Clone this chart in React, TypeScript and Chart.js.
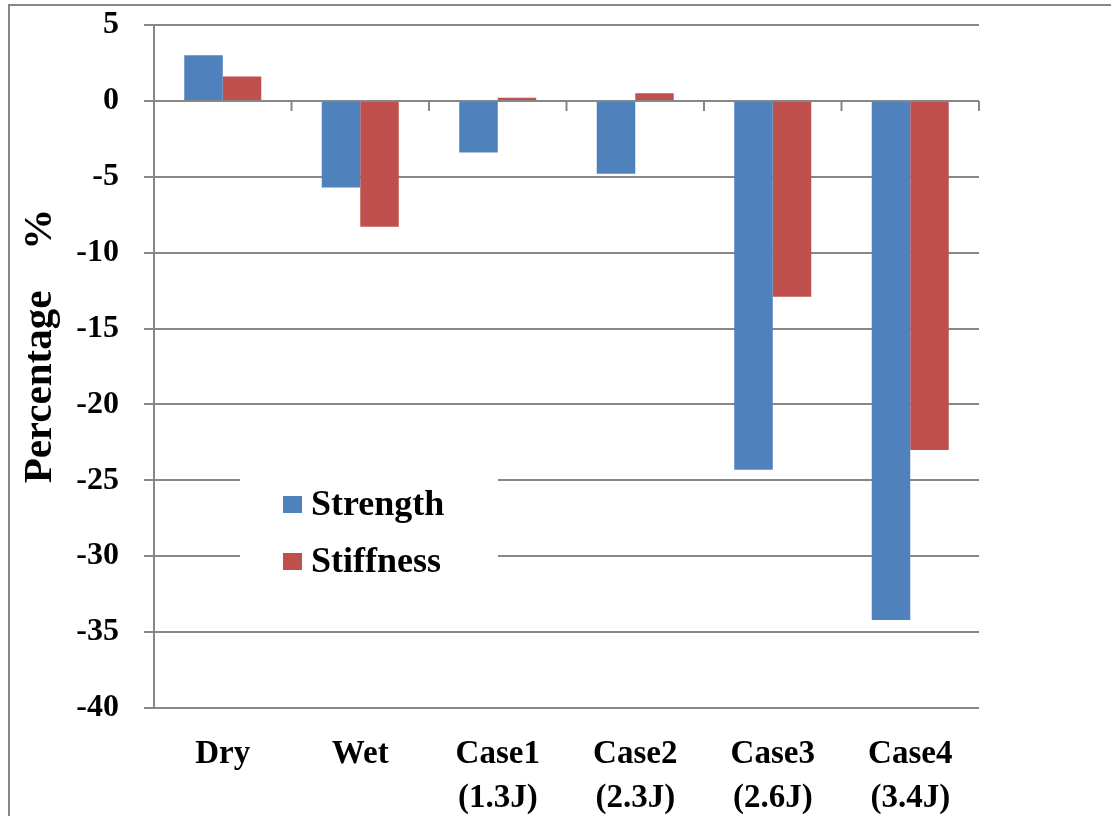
import { useEffect, useRef } from "react"
import { Chart, registerables } from "chart.js"

Chart.register(...registerables)

const categories = [["Dry"], ["Wet"], ["Case1", "(1.3J)"], ["Case2", "(2.3J)"], ["Case3", "(2.6J)"], ["Case4", "(3.4J)"]]
const seriesNames = ["Strength", "Stiffness"]
const strength = [3.0, -5.7, -3.4, -4.8, -24.3, -34.2]
const stiffness = [1.6, -8.3, 0.2, 0.5, -12.9, -23.0]
const yMin = -40
const yMax = 5
const yStep = 5

const FONT = "'Liberation Serif', 'Times New Roman', serif"
const GRID = "#878787"

// outer frame of the original figure (cut off on the right and bottom)
const framePlugin = {
  id: "frame",
  beforeDraw(chart: Chart) {
    const { ctx, width, height } = chart
    ctx.save()
    ctx.strokeStyle = GRID
    ctx.lineWidth = 2
    ctx.beginPath()
    ctx.moveTo(9, height)
    ctx.lineTo(9, 5)
    ctx.lineTo(width, 5)
    ctx.stroke()
    ctx.restore()
  },
}

// short tick marks between categories on the zero line
const zeroTicksPlugin = {
  id: "zeroTicks",
  afterDatasetsDraw(chart: Chart) {
    const { ctx } = chart
    const x = chart.scales.x
    const y = chart.scales.y
    const y0 = y.getPixelForValue(0)
    const step = x.getPixelForValue(1) - x.getPixelForValue(0)
    ctx.save()
    ctx.strokeStyle = GRID
    ctx.lineWidth = 2
    ctx.beginPath()
    for (let i = 0; i <= categories.length; i++) {
      const px = x.getPixelForValue(0) - step / 2 + i * step
      ctx.moveTo(px, y0)
      ctx.lineTo(px, y0 + 10)
    }
    ctx.moveTo(chart.chartArea.left, y0)
    ctx.lineTo(chart.chartArea.right, y0)
    ctx.stroke()
    ctx.restore()
  },
}

// legend sitting inside the plot area with a white box
const boxLegendPlugin = {
  id: "boxLegend",
  afterDraw(chart: Chart) {
    const { ctx, chartArea } = chart
    const left = chartArea.left
    const top = chartArea.top
    ctx.save()
    ctx.fillStyle = "#ffffff"
    ctx.fillRect(left + 86, top + 440, 258, 125)
    chart.data.datasets.forEach((ds, i) => {
      const rowTop = top + 471 + i * 57
      ctx.fillStyle = ds.backgroundColor as string
      ctx.fillRect(left + 129, rowTop, 19, 17)
      ctx.fillStyle = "#000000"
      ctx.font = `bold 36px ${FONT}`
      ctx.textAlign = "left"
      ctx.textBaseline = "alphabetic"
      ctx.fillText(ds.label as string, left + 157, rowTop + 19)
    })
    ctx.restore()
  },
}

export default function App() {
  const chartRef = useRef<HTMLCanvasElement>(null)
  const chartInstance = useRef<Chart | null>(null)

  useEffect(() => {
    if (!chartRef.current) return
    if (chartInstance.current) chartInstance.current.destroy()

    const ctx = chartRef.current.getContext("2d")
    if (!ctx) return

    chartInstance.current = new Chart(ctx, {
      type: "bar",
      data: {
        labels: categories,
        datasets: [
          {
            label: seriesNames[0],
            data: strength,
            backgroundColor: "#4F81BD",
            borderWidth: 0,
          },
          {
            label: seriesNames[1],
            data: stiffness,
            backgroundColor: "#C0504D",
            borderWidth: 0,
          },
        ],
      },
      options: {
        responsive: true,
        maintainAspectRatio: false,
        animation: false,
        layout: { padding: { top: 25, right: 132, bottom: 0, left: 0 } },
        datasets: {
          bar: { categoryPercentage: 0.56, barPercentage: 1 },
        },
        plugins: {
          legend: { display: false },
          tooltip: { enabled: false },
        },
        scales: {
          x: {
            grid: { display: false, drawTicks: false },
            border: { display: false },
            ticks: {
              color: "#000000",
              padding: 24,
              maxRotation: 0,
              autoSkip: false,
              font: { family: FONT, size: 33, weight: "bold", lineHeight: 1.34 },
            },
            afterFit: (scale) => {
              scale.height = 108
            },
          },
          y: {
            min: yMin,
            max: yMax,
            ticks: {
              stepSize: yStep,
              color: "#000000",
              padding: 25,
              font: { family: FONT, size: 32, weight: "bold" },
            },
            grid: { color: GRID, lineWidth: 2, tickLength: 10 },
            border: { color: GRID, width: 2 },
            title: {
              display: true,
              text: "    Percentage    %",
              color: "#000000",
              padding: { top: 16, bottom: 0 },
              font: { family: FONT, size: 41, weight: "bold" },
            },
            afterFit: (scale) => {
              scale.width = 154
              // keep the plot top/bottom set by layout padding only
              scale.paddingTop = 0
              scale.paddingBottom = 0
            },
          },
        },
      },
      plugins: [framePlugin, zeroTicksPlugin, boxLegendPlugin],
    })

    return () => {
      if (chartInstance.current) {
        chartInstance.current.destroy()
        chartInstance.current = null
      }
    }
  }, [])

  return (
    <div style={{ position: "absolute", left: 0, top: 0, width: 1111, height: 816, background: "#ffffff" }}>
      <canvas ref={chartRef} />
    </div>
  )
}
